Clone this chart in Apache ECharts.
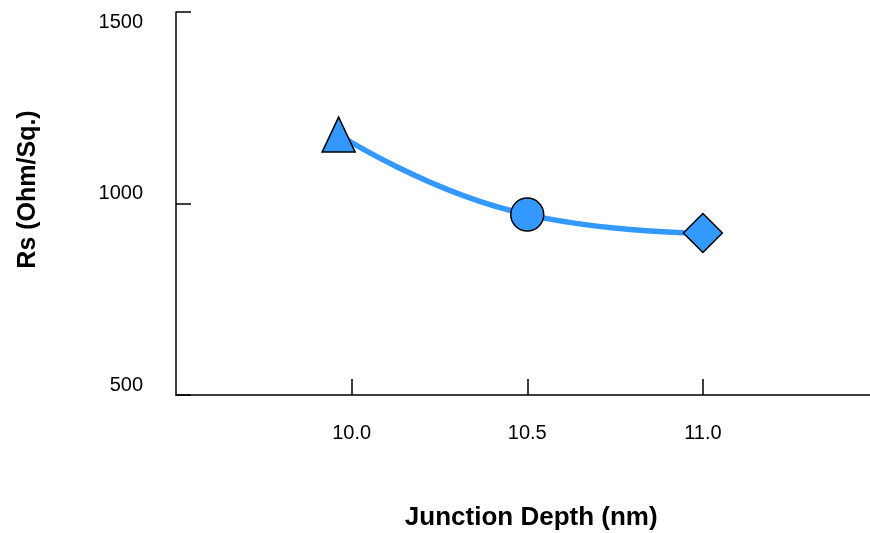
<!DOCTYPE html>
<html>
<head>
<meta charset="utf-8">
<script src="https://cdn.jsdelivr.net/npm/echarts@6/dist/echarts.min.js"></script>
<style>
  html, body { margin: 0; padding: 0; background: #fff; }
  #main { width: 870px; height: 533px; }
</style>
</head>
<body>
<div id="main"></div>
<script>
// data
var depth = [9.963, 10.5, 11.0];
var rs = [1180, 971, 923];
var shapes = ['triangle', 'circle', 'diamond'];
var shapeSizes = [[33, 35], 33, [39, 39]];

var points = depth.map(function (d, i) {
    return {
        value: [d, rs[i]],
        symbol: shapes[i],
        symbolSize: shapeSizes[i]
    };
});

var chart = echarts.init(document.getElementById('main'));

chart.setOption({
    animation: false,
    grid: { left: 176, top: 12, bottom: 138, right: -8.5, outerBoundsMode: 'none', containLabel: false },
    xAxis: {
        type: 'value',
        min: 9.5,
        max: 11.5,
        interval: 0.5,
        name: 'Junction Depth (nm)',
        nameLocation: 'middle',
        nameGap: 110,
        nameTextStyle: {
            fontFamily: 'Liberation Sans', fontSize: 26, fontWeight: 'bold', color: '#000',
            padding: [0, 0, 0, 8]
        },
        axisLine: { lineStyle: { color: '#000', width: 1.5 } },
        axisTick: { inside: true, length: 16, lineStyle: { color: '#000', width: 1.5 } },
        axisLabel: {
            margin: 28,
            fontFamily: 'Liberation Sans', fontSize: 20, color: '#000',
            showMinLabel: false, showMaxLabel: false,
            formatter: function (v) { return v.toFixed(1); }
        },
        splitLine: { show: false }
    },
    yAxis: {
        type: 'value',
        min: 500,
        max: 1500,
        interval: 500,
        name: 'Rs (Ohm/Sq.)',
        nameLocation: 'middle',
        nameGap: 135,
        nameTextStyle: {
            fontFamily: 'Liberation Sans', fontSize: 25, fontWeight: 'bold', color: '#000',
            padding: [0, 0, 0, 28]
        },
        axisLine: { lineStyle: { color: '#000', width: 1.5 } },
        axisTick: { inside: true, length: 15, lineStyle: { color: '#000', width: 1.5 } },
        axisLabel: {
            margin: 33,
            fontFamily: 'Liberation Sans', fontSize: 20, color: '#000',
            verticalAlign: 'bottom',
            verticalAlignMaxLabel: 'top',
            formatter: function (v) { return String(v); }
        },
        splitLine: { show: false }
    },
    series: [{
        type: 'line',
        smooth: true,
        data: points,
        lineStyle: { color: '#3399ff', width: 5.5 },
        itemStyle: { color: '#3399ff', borderColor: '#000', borderWidth: 1.5 },
        z: 3
    }]
});
</script>
</body>
</html>
